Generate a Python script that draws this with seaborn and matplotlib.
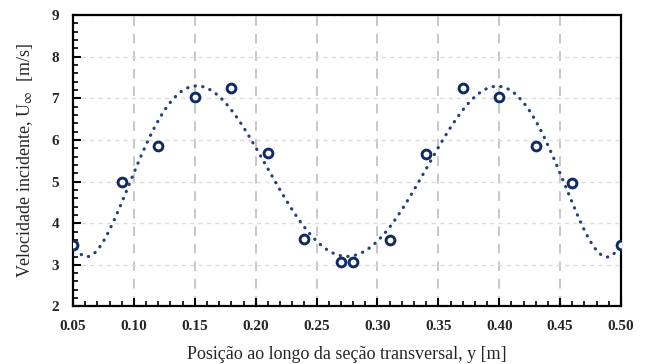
import numpy as np
import matplotlib
matplotlib.use('Agg')
import matplotlib.pyplot as plt
from matplotlib.ticker import MultipleLocator
import seaborn as sns
import pandas as pd

# measured points
pos_y = [0.05, 0.09, 0.12, 0.15, 0.18, 0.21, 0.24, 0.27, 0.28, 0.31, 0.34, 0.37, 0.40, 0.43, 0.46, 0.50]
vel_u = [3.47, 5.00, 5.85, 7.03, 7.25, 5.68, 3.62, 3.07, 3.07, 3.60, 5.67, 7.25, 7.03, 5.85, 4.97, 3.47]

df = pd.DataFrame({'y': pos_y, 'U': vel_u})

# polynomial trendline (order 6, like the spreadsheet)
coef = np.polyfit(df['y'], df['U'], 6)
xs = np.linspace(0.05, 0.50, 300)
trend = pd.DataFrame({'y': xs, 'U': np.polyval(coef, xs)})

sns.set_style('white')
plt.rcParams['font.family'] = ['Liberation Serif', 'DejaVu Serif']
plt.rcParams['mathtext.fontset'] = 'stix'

navy = '#0F2A66'
line_c = '#24407F'

fig = plt.figure(figsize=(6.48, 3.64), dpi=100)
ax = fig.add_axes([0.1127, 0.158, 0.8456, 0.801])

sns.lineplot(data=trend, x='y', y='U', ax=ax, color=line_c, lw=2.3,
             linestyle=(0, (0.1, 2.3)), dash_capstyle='round', zorder=3)
sns.scatterplot(data=df, x='y', y='U', ax=ax, marker='o', s=40,
                facecolor='white', edgecolor=navy, linewidth=2.1, zorder=4)

ax.set_xlim(0.05, 0.50)
ax.set_ylim(2, 9)
ax.xaxis.set_major_locator(MultipleLocator(0.05))
ax.xaxis.set_minor_locator(MultipleLocator(0.01))
ax.yaxis.set_major_locator(MultipleLocator(1))
ax.yaxis.set_minor_locator(MultipleLocator(0.2))
ax.xaxis.set_major_formatter(plt.FormatStrFormatter('%.2f'))

ax.grid(axis='x', which='major', color='#C8C8C8', lw=1.4, ls=(0, (5, 4)))
ax.grid(axis='y', which='major', color='#DDDDDD', lw=1.0, ls=(0, (3, 3)))
ax.set_axisbelow(True)

ax.tick_params(which='both', direction='in', color='black',
               top=False, right=False, bottom=True, left=True)
ax.tick_params(which='major', length=6, width=1.5, labelsize=11)
ax.tick_params(axis='x', which='major', pad=10)
ax.tick_params(axis='y', which='major', pad=10)
ax.tick_params(which='minor', length=3.5, width=1.2)
for lab in ax.get_xticklabels() + ax.get_yticklabels():
    lab.set_fontweight('bold')

for s in ax.spines.values():
    s.set_visible(True)
    s.set_color('black')
    s.set_linewidth(1.6)

ax.set_xlabel('Posição ao longo da seção transversal, y [m]', fontsize=13, labelpad=9)
ax.set_ylabel(r'Velocidade incidente, U$_{\infty}$  [m/s]', fontsize=13, labelpad=12)

fig.savefig('out.png', dpi=100)
